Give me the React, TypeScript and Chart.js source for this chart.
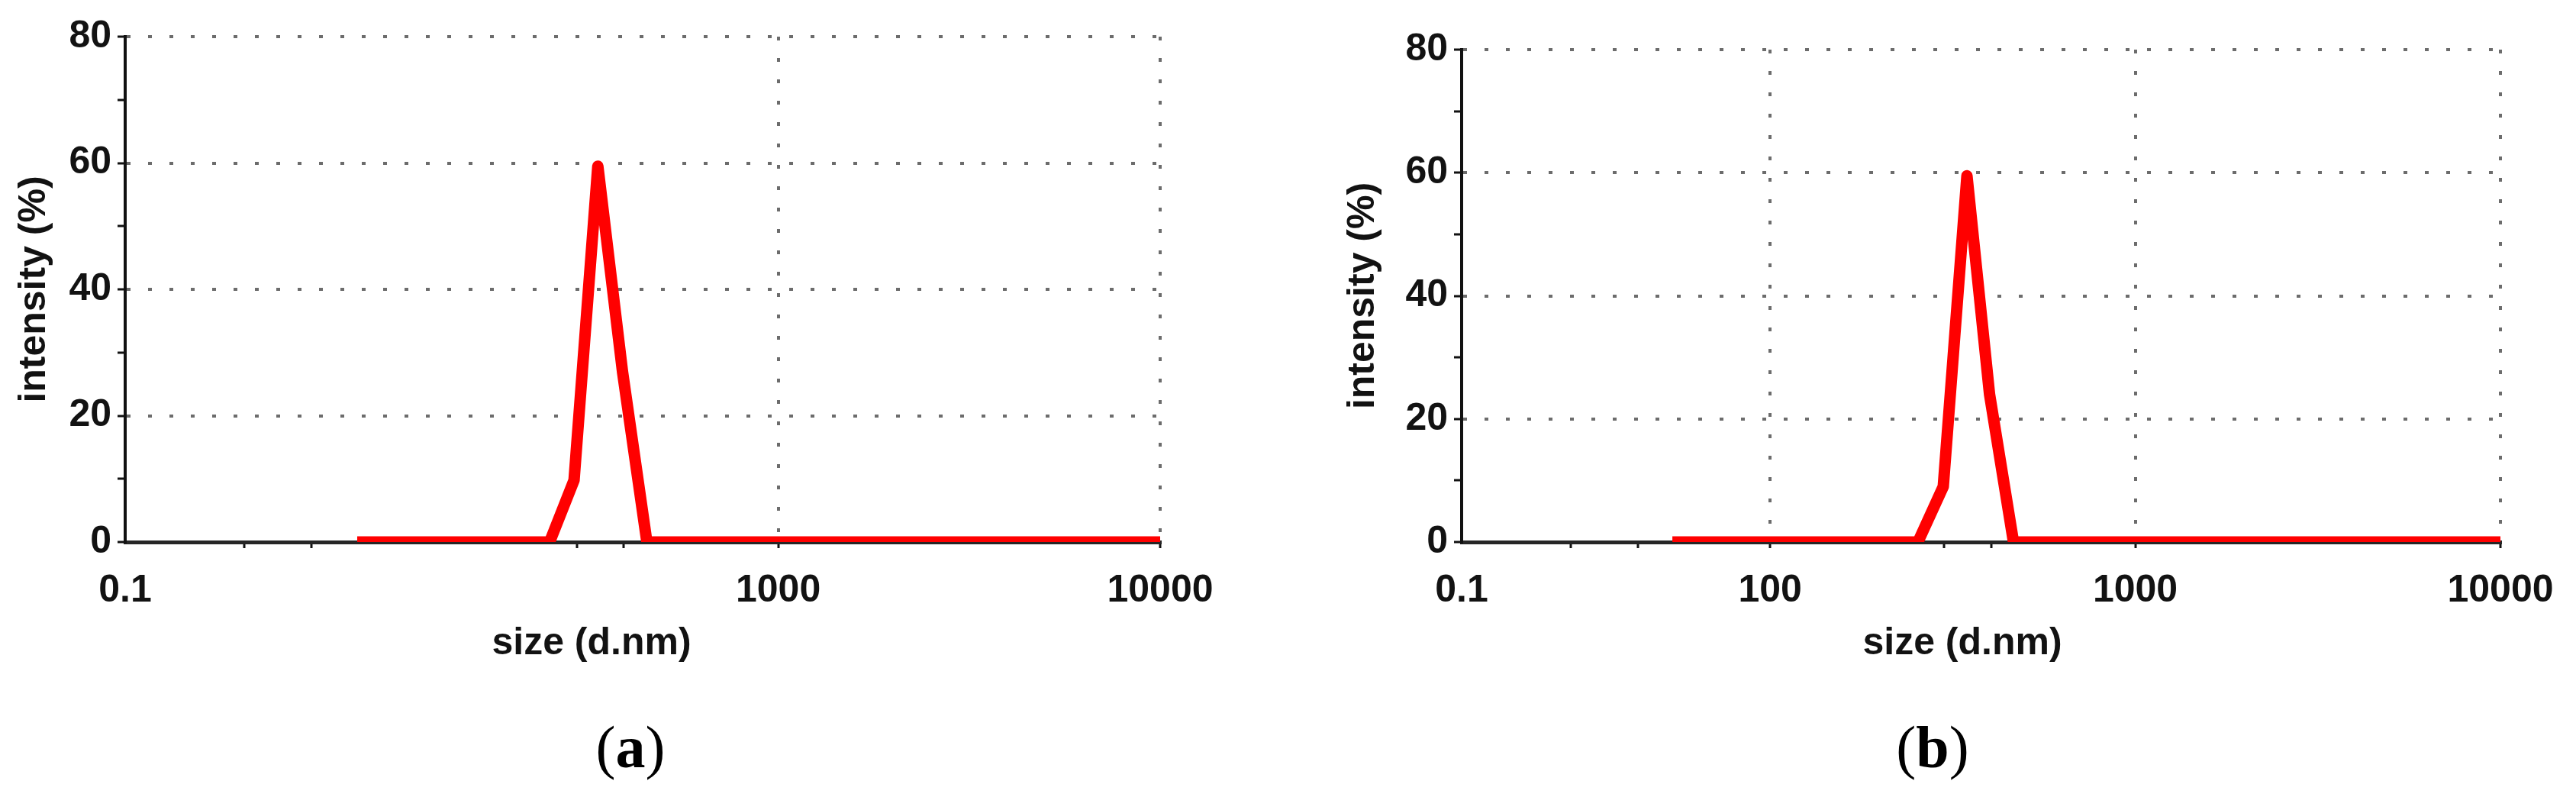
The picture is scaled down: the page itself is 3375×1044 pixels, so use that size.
import React, { useEffect, useRef } from 'react';
import { Chart, registerables } from 'chart.js';

Chart.register(...registerables);

// ---- Data ----
// Panel (a)
const sizesA = [79, 252, 292, 337, 391, 453, 10000];
const intensityA = [0, 0, 9.8, 59.5, 27, 0, 0];
// Panel (b)
const sizesB = [54, 254, 298, 346, 399, 464, 10000];
const intensityB = [0, 0, 9, 59.5, 24, 0, 0];

// x axis ticks (as drawn in the picture)
const xTickValuesA = [19.5, 1000, 10000];
const xTickLabelsA = ['0.1', '1000', '10000'];
const xGridValuesA = [1000, 10000];
const xMinorTicksA = [40, 60, 297, 393];

const xTickValuesB = [14.3, 100, 1000, 10000];
const xTickLabelsB = ['0.1', '100', '1000', '10000'];
const xGridValuesB = [100, 1000, 10000];
const xMinorTicksB = [28.5, 43.4, 300, 404];

// y axis ticks
const yTickValues = [0, 10, 20, 30, 40, 50, 60, 70, 80];
const yTickLabels = ['0', '', '20', '', '40', '', '60', '', '80'];
const yGridValues = [20, 40, 60, 80];

const xAxisTitle = 'size (d.nm)';
const yAxisTitle = 'intensity (%)';
const panelLetters = ['a', 'b'];

// ---- Layout (positions only) ----
type PanelCfg = {
  sizes: number[];
  values: number[];
  xTicks: number[];
  xLabels: string[];
  xGrid: number[];
  xMinor: number[];
  canvasLeft: number;
  canvasWidth: number;
  canvasHeight: number;
  plotLeft: number;
  plotRight: number;
  plotTop: number;
  plotBottom: number;
  yTitleX: number;
  xTitleX: number;
  xTitleY: number;
};

const panels: PanelCfg[] = [
  {
    sizes: sizesA, values: intensityA,
    xTicks: xTickValuesA, xLabels: xTickLabelsA, xGrid: xGridValuesA, xMinor: xMinorTicksA,
    canvasLeft: 0, canvasWidth: 1640, canvasHeight: 900,
    plotLeft: 164, plotRight: 1520, plotTop: 48, plotBottom: 710, yTitleX: 45,
    xTitleX: 775, xTitleY: 843,
  },
  {
    sizes: sizesB, values: intensityB,
    xTicks: xTickValuesB, xLabels: xTickLabelsB, xGrid: xGridValuesB, xMinor: xMinorTicksB,
    canvasLeft: 1700, canvasWidth: 1675, canvasHeight: 900,
    plotLeft: 215, plotRight: 1576, plotTop: 65, plotBottom: 710, yTitleX: 86,
    xTitleX: 871, xTitleY: 843,
  },
];

const FONT = "'Liberation Sans', Arial, sans-serif";
const TEXT = '#121212';
const GRID = '#6c6c6c';
const LABEL_SIZE = 50;

// draws the x-axis title at the place the picture has it (slightly off-centre)
const xTitlePlugin = {
  id: 'xTitleAt',
  afterDraw(chart: any, _args: any, opts: any) {
    const { ctx } = chart;
    ctx.save();
    ctx.font = `bold ${opts.size}px ${FONT}`;
    ctx.fillStyle = opts.color;
    ctx.textAlign = 'center';
    ctx.textBaseline = 'middle';
    ctx.fillText(opts.text, opts.x, opts.y);
    ctx.restore();
  },
};

function Panel({ cfg }: { cfg: PanelCfg }) {
  const ref = useRef<HTMLCanvasElement>(null);
  useEffect(() => {
    const canvas = ref.current;
    if (!canvas) return;
    const xLabelMap = new Map<number, string>();
    cfg.xTicks.forEach((v, i) => xLabelMap.set(v, cfg.xLabels[i]));
    const yLabelMap = new Map<number, string>();
    yTickValues.forEach((v, i) => yLabelMap.set(v, yTickLabels[i]));
    const lh = LABEL_SIZE * 1.2;

    const chart = new Chart(canvas, {
      type: 'line',
      data: {
        datasets: [
          {
            data: cfg.sizes.map((s, i) => ({ x: s, y: cfg.values[i] })),
            borderColor: '#ff0000',
            backgroundColor: '#ff0000',
            borderWidth: 15,
            pointRadius: 0,
            borderJoinStyle: 'round',
            tension: 0,
            fill: false,
          },
        ],
      },
      plugins: [xTitlePlugin],
      options: {
        responsive: false,
        animation: false,
        devicePixelRatio: 1,
        events: [],
        layout: {
          padding: {
            left: 0,
            top: cfg.plotTop,
            right: cfg.canvasWidth - cfg.plotRight,
            bottom: 0,
          },
        },
        plugins: {
          legend: { display: false },
          tooltip: { enabled: false },
          title: { display: false },
          xTitleAt: {
            text: xAxisTitle,
            x: cfg.xTitleX,
            y: cfg.xTitleY,
            size: LABEL_SIZE,
            color: TEXT,
          },
        },
        scales: {
          x: {
            type: 'logarithmic',
            position: 'bottom',
            min: cfg.xTicks[0],
            max: cfg.xTicks[cfg.xTicks.length - 1],
            afterBuildTicks: (axis: any) => {
              axis.ticks = [...cfg.xTicks, ...cfg.xMinor]
                .sort((a, b) => a - b)
                .map((v) => ({ value: v }));
            },
            afterFit: (axis: any) => {
              axis.height = cfg.canvasHeight - cfg.plotBottom;
            },
            ticks: {
              autoSkip: false,
              maxRotation: 0,
              minRotation: 0,
              padding: 26,
              color: TEXT,
              font: { family: FONT, size: LABEL_SIZE, weight: 'bold' },
              callback: (v: any) => xLabelMap.get(Number(v)) ?? '',
            },
            grid: {
              display: true,
              drawOnChartArea: true,
              drawTicks: true,
              tickLength: 8,
              tickWidth: 3,
              tickColor: (ctx: any) =>
                cfg.xTicks[0] === ctx.tick?.value ? 'rgba(0,0,0,0)' : TEXT,
              lineWidth: 4,
              color: (ctx: any) =>
                cfg.xGrid.includes(ctx.tick?.value) ? GRID : 'rgba(0,0,0,0)',
            },
            border: { display: true, color: '#262626', width: 5, dash: [5, 23] },
            title: { display: false, text: xAxisTitle },
          },
          y: {
            type: 'linear',
            position: 'left',
            min: 0,
            max: 80,
            afterBuildTicks: (axis: any) => {
              axis.ticks = yTickValues.map((v) => ({ value: v }));
            },
            afterFit: (axis: any) => {
              axis.width = cfg.plotLeft;
            },
            ticks: {
              autoSkip: false,
              padding: 8,
              color: TEXT,
              font: { family: FONT, size: LABEL_SIZE, weight: 'bold' },
              callback: (v: any) => yLabelMap.get(Number(v)) ?? '',
            },
            grid: {
              display: true,
              drawOnChartArea: true,
              drawTicks: true,
              tickLength: 10,
              tickWidth: 3,
              tickColor: TEXT,
              lineWidth: 4,
              color: (ctx: any) =>
                yGridValues.includes(ctx.tick?.value) ? GRID : 'rgba(0,0,0,0)',
            },
            border: { display: true, color: '#111111', width: 4, dash: [5, 23] },
            title: {
              display: true,
              text: yAxisTitle,
              color: TEXT,
              font: { family: FONT, size: LABEL_SIZE, weight: 'bold' },
              padding: { top: cfg.yTitleX - lh / 2, bottom: 0 },
            },
          },
        },
      } as any,
    });
    return () => chart.destroy();
  }, [cfg]);

  return (
    <canvas
      ref={ref}
      width={cfg.canvasWidth}
      height={cfg.canvasHeight}
      style={{
        position: 'absolute',
        left: cfg.canvasLeft,
        top: 0,
        width: cfg.canvasWidth,
        height: cfg.canvasHeight,
      }}
    />
  );
}

const letterCenters = [826, 2532];

export default function App() {
  return (
    <div
      style={{
        position: 'absolute',
        left: 0,
        top: 0,
        width: 3375,
        height: 1044,
        background: '#ffffff',
        overflow: 'hidden',
      }}
    >
      {panels.map((p, i) => (
        <Panel key={i} cfg={p} />
      ))}
      {panelLetters.map((l, i) => (
        <div
          key={l}
          style={{
            position: 'absolute',
            left: letterCenters[i] - 150,
            width: 300,
            top: 940,
            textAlign: 'center',
            fontFamily: "'Liberation Serif', 'Times New Roman', serif",
            fontSize: 78,
            lineHeight: 1,
            color: '#000',
          }}
        >
          (<b>{l}</b>)
        </div>
      ))}
    </div>
  );
}
